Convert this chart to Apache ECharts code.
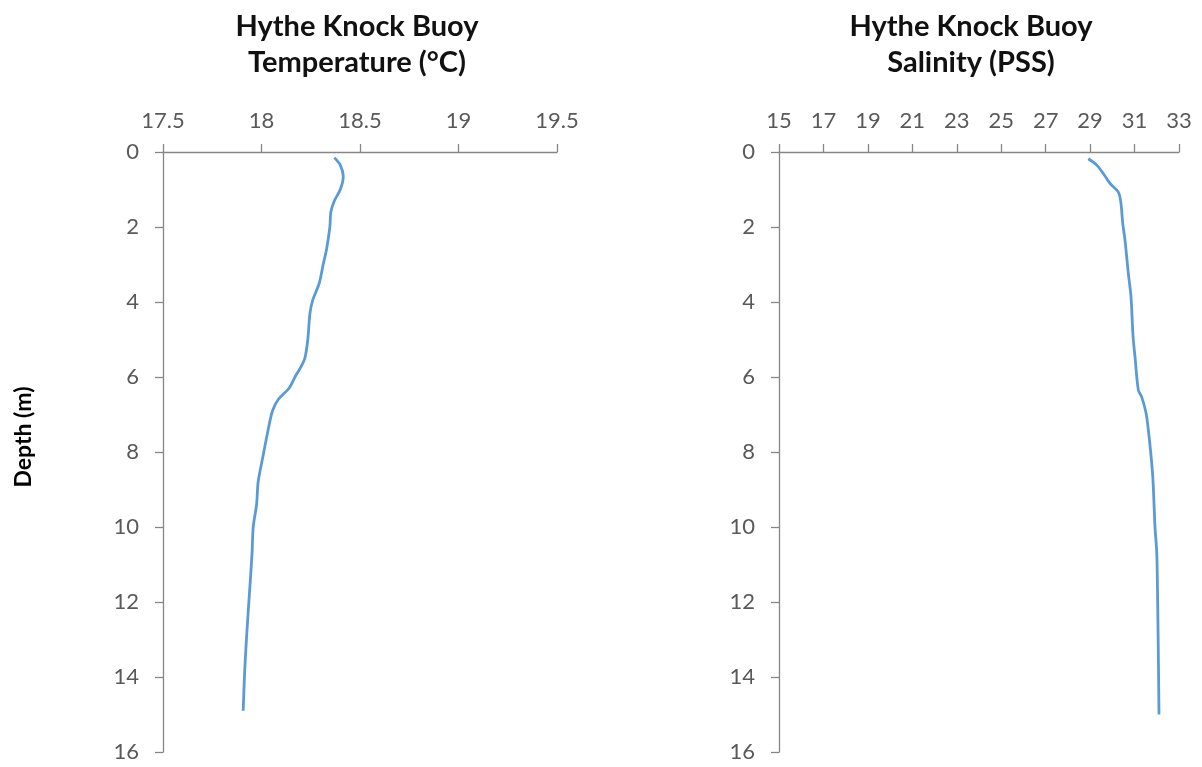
<!DOCTYPE html>
<html>
<head>
<meta charset="utf-8">
<script src="https://cdn.jsdelivr.net/npm/echarts@6/dist/echarts.min.js"></script>
<style>
html,body{margin:0;padding:0;background:#fff;}
#chart{width:1202px;height:767px;}
</style>
</head>
<body>
<div id="chart"></div>
<script>
// Temperature profile
const tempDepth = [0.15, 0.35, 0.65, 1.0, 1.3, 1.6, 2.0, 2.6, 3.0, 3.5, 3.95, 4.3, 5.0, 5.5, 5.75, 6.0, 6.3, 6.6, 6.9, 7.4, 8.1, 8.8, 9.4, 10.0, 10.7, 11.6, 12.7, 13.8, 14.9];
const tempValues = [18.37, 18.40, 18.415, 18.40, 18.37, 18.352, 18.347, 18.33, 18.313, 18.293, 18.26, 18.246, 18.235, 18.22, 18.198, 18.17, 18.14, 18.085, 18.056, 18.034, 18.008, 17.983, 17.975, 17.958, 17.952, 17.941, 17.927, 17.915, 17.907];
// Salinity profile
const salDepth = [0.18, 0.35, 0.58, 0.84, 1.07, 1.33, 1.91, 2.35, 3.24, 3.86, 4.9, 5.46, 6.35, 6.53, 6.97, 7.68, 8.66, 10.0, 10.7, 12.0, 13.4, 15.0];
const salValues = [28.92, 29.30, 29.6, 29.9, 30.27, 30.38, 30.47, 30.57, 30.72, 30.84, 30.93, 31.02, 31.17, 31.32, 31.52, 31.67, 31.82, 31.92, 32.0, 32.04, 32.07, 32.1];

const titles = ['Hythe Knock Buoy\nTemperature (°C)', 'Hythe Knock Buoy\nSalinity (PSS)'];
const depthLabel = 'Depth (m)';

const FONT = 'Lato';
const lineColor = '#5B9BD5';
const axisColor = '#868686';
const labelColor = '#595959';

const tempData = tempDepth.map((d, i) => [tempValues[i], d]);
const salData = salDepth.map((d, i) => [salValues[i], d]);

const chart = echarts.init(document.getElementById('chart'));

function xAxisCfg(gridIndex, min, max, interval) {
  return {
    type: 'value', gridIndex, position: 'top', min, max, interval,
    axisLine: {show: true, lineStyle: {color: axisColor, width: 1.3}},
    axisTick: {show: true, inside: false, length: 8, lineStyle: {color: axisColor, width: 1.3}},
    axisLabel: {color: labelColor, fontFamily: FONT, fontSize: 22, margin: 20},
    splitLine: {show: false}
  };
}
function yAxisCfg(gridIndex) {
  return {
    type: 'value', gridIndex, inverse: true, min: 0, max: 16, interval: 2,
    axisLine: {show: true, onZero: false, lineStyle: {color: axisColor, width: 1.3}},
    axisTick: {show: true, inside: false, length: 8, lineStyle: {color: axisColor, width: 1.3}},
    axisLabel: {color: labelColor, fontFamily: FONT, fontSize: 22, margin: 24},
    splitLine: {show: false}
  };
}

chart.setOption({
  backgroundColor: '#fff',
  animation: false,
  title: [
    {text: titles[0], left: 352, top: 4, textAlign: 'center',
     textStyle: {fontFamily: FONT, fontSize: 29, fontWeight: 'bold', color: '#111', lineHeight: 36}},
    {text: titles[1], left: 966, top: 4, textAlign: 'center',
     textStyle: {fontFamily: FONT, fontSize: 29, fontWeight: 'bold', color: '#111', lineHeight: 36}}
  ],
  graphic: [{
    type: 'text', x: 24, y: 437, rotation: Math.PI / 2,
    style: {text: depthLabel, fontFamily: FONT, fontSize: 23, fontWeight: 'bold', fill: '#000',
            align: 'center', verticalAlign: 'middle'}
  }],
  grid: [
    {left: 163, right: 645, top: 152, bottom: 15},
    {left: 779, right: 23, top: 152, bottom: 15}
  ],
  xAxis: [xAxisCfg(0, 17.5, 19.5, 0.5), xAxisCfg(1, 15, 33, 2)],
  yAxis: [yAxisCfg(0), yAxisCfg(1)],
  series: [
    {type: 'line', xAxisIndex: 0, yAxisIndex: 0, data: tempData, smooth: 0.3,
     showSymbol: false, lineStyle: {color: lineColor, width: 2.8}},
    {type: 'line', xAxisIndex: 1, yAxisIndex: 1, data: salData, smooth: 0.3,
     showSymbol: false, lineStyle: {color: lineColor, width: 2.8}}
  ]
});
</script>
</body>
</html>
